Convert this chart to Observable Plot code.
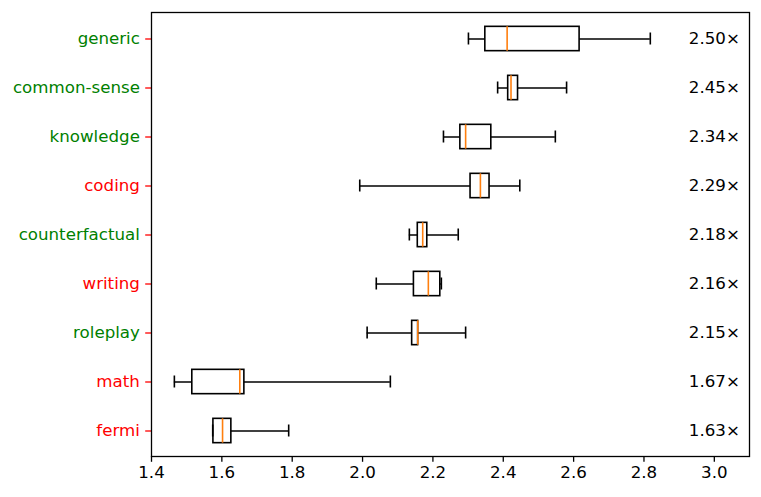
<!DOCTYPE html>
<html>
<head>
<meta charset="utf-8">
<script src="https://cdn.jsdelivr.net/npm/d3@7"></script>
<script src="https://cdn.jsdelivr.net/npm/@observablehq/plot@0.6"></script>
<style>
  html, body { margin: 0; padding: 0; background: #fff; }
  svg { font-family: "DejaVu Sans", sans-serif; }
</style>
</head>
<body>
<div id="chart"></div>
<script>
const categories = ["generic", "common-sense", "knowledge", "coding", "counterfactual", "writing", "roleplay", "math", "fermi"];
const labelColors = ["green", "green", "green", "red", "green", "red", "green", "red", "red"];
const whiskerLow = [2.301, 2.384, 2.230, 1.992, 2.133, 2.039, 2.013, 1.465, 1.574];
const q1 = [2.349, 2.414, 2.278, 2.307, 2.157, 2.146, 2.141, 1.516, 1.576];
const medians = [2.411, 2.422, 2.293, 2.335, 2.171, 2.187, 2.157, 1.651, 1.602];
const q3 = [2.617, 2.442, 2.366, 2.361, 2.184, 2.221, 2.158, 1.664, 1.627];
const whiskerHigh = [2.818, 2.580, 2.548, 2.447, 2.272, 2.224, 2.293, 2.079, 1.790];
const multipliers = ["2.50×", "2.45×", "2.34×", "2.29×", "2.18×", "2.16×", "2.15×", "1.67×", "1.63×"];
const xTicks = [1.4, 1.6, 1.8, 2.0, 2.2, 2.4, 2.6, 2.8, 3.0];
const multiplierX = 3.0;

const rows = categories.map((c, i) => ({
  cat: c, color: labelColors[i], lo: whiskerLow[i], q1: q1[i], med: medians[i],
  q3: q3[i], hi: whiskerHigh[i], mult: multipliers[i]
}));

const W = 761, H = 497;
const mL = 151, mR = 12, mT = 12, mB = 41;
const band = (H - mT - mB) / categories.length;
const boxInset = band * 0.25;
const capInset = band * 0.375;
const fs = 16.67;
const tick = 5.8;

const plot = Plot.plot({
  width: W, height: H,
  marginLeft: mL, marginRight: mR, marginTop: mT, marginBottom: mB,
  style: { fontFamily: "DejaVu Sans, sans-serif", fontSize: fs + "px", background: "#fff" },
  x: { domain: [1.4, 3.1] },
  y: { domain: categories, padding: 0 },
  marks: [
    Plot.axisX({ ticks: xTicks, tickSize: tick, tickPadding: 4, tickFormat: d3.format(".1f"), stroke: "black", fill: "black", strokeWidth: 1.3, fontSize: fs, label: null }),
    Plot.axisY({ tickSize: tick, stroke: "red", strokeWidth: 1.3, text: null, label: null }),
    Plot.text(rows.filter(d => d.color === "green"), { y: "cat", text: "cat", frameAnchor: "left", textAnchor: "end", dx: -11.6, fill: "green", fontSize: fs }),
    Plot.text(rows.filter(d => d.color === "red"), { y: "cat", text: "cat", frameAnchor: "left", textAnchor: "end", dx: -11.6, fill: "red", fontSize: fs }),
    Plot.ruleY(rows, { y: "cat", x1: "lo", x2: "hi", stroke: "black", strokeWidth: 1.6 }),
    Plot.barX(rows, { y: "cat", x1: "q1", x2: "q3", fill: "white", stroke: "black", strokeWidth: 1.6, insetTop: boxInset, insetBottom: boxInset }),
    Plot.tickX(rows, { y: "cat", x: "med", stroke: "#ff7f0e", strokeWidth: 1.6, insetTop: boxInset, insetBottom: boxInset }),
    Plot.tickX(rows, { y: "cat", x: "lo", stroke: "black", strokeWidth: 1.6, insetTop: capInset, insetBottom: capInset }),
    Plot.tickX(rows, { y: "cat", x: "hi", stroke: "black", strokeWidth: 1.6, insetTop: capInset, insetBottom: capInset }),
    Plot.text(rows, { y: "cat", x: () => multiplierX, text: "mult", textAnchor: "middle", fill: "black", fontSize: fs }),
    Plot.frame({ stroke: "black", strokeWidth: 1.3 })
  ]
});
document.getElementById("chart").appendChild(plot);
</script>
</body>
</html>
